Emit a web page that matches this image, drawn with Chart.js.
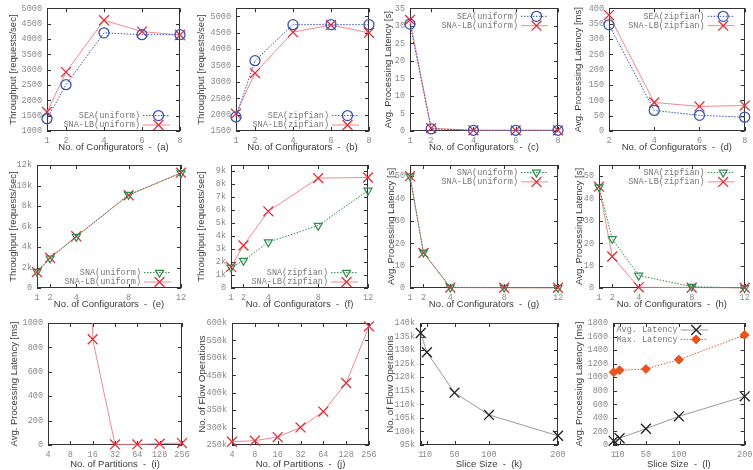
<!DOCTYPE html>
<html><head><meta charset="utf-8">
<script src="https://cdn.jsdelivr.net/npm/chart.js@4"></script>
<style>
html,body{margin:0;padding:0;background:#fff;}
#wrap{position:relative;width:753px;height:470px;overflow:hidden;background:#fff;}
#wrap canvas{position:absolute;left:0;top:0;}
</style></head><body><div id="wrap"></div>
<script>
// ---------------- DATA ----------------
const xConf = [1, 2, 4, 6, 8];
const xConfD = [2, 4, 6, 8];
const xConfE = [1, 2, 4, 8, 12];
const xPart = [4, 8, 16, 32, 64, 128, 256];
const xSlice = [1, 10, 50, 100, 200];

const aSEA = [1400, 2510, 4200, 4140, 4140];
const aSNALB = [1620, 2920, 4610, 4240, 4130];
const bSEA = [1930, 3650, 4750, 4750, 4750];
const bSNALB = [2030, 3270, 4520, 4740, 4500];
const cSEA = [30.5, 0.6, 0.2, 0.2, 0.2];
const cSNALB = [31.7, 0.8, 0.2, 0.2, 0.2];
const dSEA = [346, 67, 51, 45];
const dSNALB = [378, 93, 80, 83];
const eSNA = [1600, 2900, 5000, 9100, 11200];
const eSNALB = [1550, 2950, 5050, 9050, 11250];
const fSNA = [1580, 2100, 3530, 4800, 7500];
const fSNALB = [1620, 3270, 5900, 8450, 8500];
const gSNA = [50, 15.9, 0.3, 0.2, 0.1];
const gSNALB = [50, 15.7, 0.2, 0.1, 0.1];
const hSNA = [45.1, 22, 5.6, 0.6, 0];
const hSNALB = [45.3, 14.1, 0.3, 0.2, 0.1];
const iSNALB = [40000, 30000, 867, 5, 5, 11, 16];
const jSNALB = [259500, 262400, 272800, 300400, 346000, 427900, 590500];
const kFlowOps = [136300, 129200, 114300, 106100, 98400];
const lAvg = [62, 100, 240, 423, 718];
const lMax = [1072, 1102, 1121, 1259, 1623];

// tick labels
const yTicksA = [1000, 1500, 2000, 2500, 3000, 3500, 4000, 4500, 5000];
const yTicksB = [1500, 2000, 2500, 3000, 3500, 4000, 4500, 5000];
const yTicksC = [0, 5, 10, 15, 20, 25, 30, 35];
const yTicksD = [0, 50, 100, 150, 200, 250, 300, 350, 400];
const yTicksE = [0, 2000, 4000, 6000, 8000, 10000, 12000];
const yTicksF = [0, 1000, 2000, 3000, 4000, 5000, 6000, 7000, 8000, 9000];
const yTicksG = [0, 10, 20, 30, 40, 50];
const yTicksI = [0, 200, 400, 600, 800, 1000];
const yTicksJ = [250000, 300000, 350000, 400000, 450000, 500000, 550000, 600000];
const yTicksK = [95000, 100000, 105000, 110000, 115000, 120000, 125000, 130000, 135000, 140000];
const yTicksL = [0, 200, 400, 600, 800, 1000, 1200, 1400, 1600, 1800];

// ---------------- STYLES ----------------
const ST = {
  sea: {color:'#3a52b0', line:'#3a52b0', width:1, dash:[1.5,1.5], ps:'circle', r:5, pw:1.3, fill:false},
  lb:  {color:'#e0303a', line:'#f07a80', width:0.9, dash:[], ps:'crossRot', r:7, pw:1.3, fill:false},
  sna: {color:'#2e8a4c', line:'#2e8a4c', width:1, dash:[1.5,1.5], ps:'triangle', rot:180, r:4.6, pw:1.2, fill:false},
  blk: {color:'#222222', line:'#9a9a9a', width:1, dash:[], ps:'crossRot', r:7, pw:1.3, fill:false},
  mx:  {color:'#e8541e', line:'#e8541e', width:1, dash:[1.5,1.5], ps:'rectRot', r:4.5, pw:1, fill:true}
};
const TITLE_SIZE = 9.5;
const TICK_SIZE = 8.5;
const TITLE_FONT = "'Liberation Sans', Arial, sans-serif";
const MONO_FONT = "'Liberation Mono', 'DejaVu Sans Mono', monospace";
const W = 753, H = 470;

function kfmt(v){ return v === 0 ? '0' : (v/1000) + 'k'; }
function pfmt(v){ return String(v); }

function drawMarker(ctx, st, x, y){
  ctx.save();
  ctx.setLineDash([]);
  ctx.strokeStyle = st.color; ctx.fillStyle = st.color; ctx.lineWidth = st.pw;
  const r = st.r;
  ctx.beginPath();
  if (st.ps === 'circle') {
    ctx.arc(x, y, r, 0, Math.PI*2);
  } else if (st.ps === 'crossRot') {
    const d = r*Math.SQRT1_2;
    ctx.moveTo(x-d, y-d); ctx.lineTo(x+d, y+d);
    ctx.moveTo(x-d, y+d); ctx.lineTo(x+d, y-d);
  } else if (st.ps === 'triangle') {
    let rad = (st.rot||0)*Math.PI/180;
    for (let k=0;k<3;k++){
      const px = x + Math.sin(rad)*r, py = y - Math.cos(rad)*r;
      if (k===0) ctx.moveTo(px,py); else ctx.lineTo(px,py);
      rad += 2*Math.PI/3;
    }
    ctx.closePath();
  } else if (st.ps === 'rectRot') {
    ctx.moveTo(x-r, y); ctx.lineTo(x, y-r); ctx.lineTo(x+r, y); ctx.lineTo(x, y+r); ctx.closePath();
  }
  if (st.fill) ctx.fill();
  ctx.stroke();
  ctx.restore();
}

const wrap = document.getElementById('wrap');

function makeChart(spec){
  const cv = document.createElement('canvas');
  cv.width = W; cv.height = H;
  cv.style.width = W+'px'; cv.style.height = H+'px';
  wrap.appendChild(cv);
  const lh = TITLE_SIZE*1.2;
  const P = spec.pos;
  const padLeft = P.ytx - lh/2;
  const padBottom = H - (P.xty + lh/2);

  const gnuPlugin = {
    id: 'gnu',
    beforeDatasetsDraw(chart){
      const {ctx, chartArea:a, scales} = chart;
      ctx.save();
      ctx.strokeStyle = '#333'; ctx.lineWidth = 1; ctx.setLineDash([]);
      ctx.strokeRect(Math.round(a.left)+0.5, Math.round(a.top)+0.5, Math.round(a.right-a.left)-1, Math.round(a.bottom-a.top)-1);
      const L = 4;
      ctx.beginPath();
      scales.y.ticks.forEach(t => {
        const y = Math.round(scales.y.getPixelForValue(t.value))+0.5;
        ctx.moveTo(a.left, y); ctx.lineTo(a.left+L, y);
        ctx.moveTo(a.right, y); ctx.lineTo(a.right-L, y);
      });
      scales.x.ticks.forEach(t => {
        const x = Math.round(scales.x.getPixelForValue(t.value))+0.5;
        ctx.moveTo(x, a.bottom); ctx.lineTo(x, a.bottom-L);
        ctx.moveTo(x, a.top); ctx.lineTo(x, a.top+L);
      });
      ctx.stroke();
      ctx.restore();
    },
    afterDraw(chart){
      const lg = spec.legend;
      if (!lg) return;
      const {ctx, chartArea:a} = chart;
      const n = spec.series.length;
      const gap = 9.4;
      const sampleEnd = a.right - lg.rightOff;
      const sampleStart = sampleEnd - 27;
      ctx.save();
      spec.series.forEach((s, i) => {
        const y = lg.anchor === 'top' ? a.top + lg.off + i*gap : a.bottom - lg.off - (n-1-i)*gap;
        ctx.font = TICK_SIZE + 'px ' + MONO_FONT;
        ctx.fillStyle = '#777';
        ctx.textAlign = 'right'; ctx.textBaseline = 'middle';
        ctx.fillText(s.label, sampleStart - 3, y);
        ctx.beginPath();
        ctx.strokeStyle = s.st.line; ctx.lineWidth = s.st.width; ctx.setLineDash(s.st.dash);
        ctx.moveTo(sampleStart, y); ctx.lineTo(sampleEnd, y); ctx.stroke();
        drawMarker(ctx, s.st, (sampleStart+sampleEnd)/2 + 2, y);
      });
      ctx.restore();
    }
  };

  const tickFont = {family: MONO_FONT, size: TICK_SIZE};
  const titleFont = {family: TITLE_FONT, size: TITLE_SIZE};

  return new Chart(cv, {
    type: 'line',
    data: {datasets: spec.series.map(s => ({
      label: s.label,
      data: s.x.map((x, i) => ({x: x, y: s.y[i]})),
      borderColor: s.st.line, borderWidth: s.st.width, borderDash: s.st.dash,
      pointStyle: s.st.ps, pointRotation: s.st.rot || 0, pointRadius: s.st.r,
      pointBorderColor: s.st.color,
      pointBackgroundColor: s.st.fill ? s.st.color : 'rgba(0,0,0,0)',
      pointBorderWidth: s.st.pw, pointHoverRadius: s.st.r,
      tension: 0, fill: false,
      clip: spec.clip !== undefined ? spec.clip : 10
    }))},
    options: {
      responsive: false, animation: false, devicePixelRatio: 1,
      layout: {padding: {left: padLeft, top: P.T, right: W - P.R, bottom: padBottom}},
      plugins: {legend: {display: false}, tooltip: {enabled: false}},
      events: [],
      scales: {
        x: {
          type: spec.xType || 'linear', min: spec.xMin, max: spec.xMax,
          grid: {display: false, drawTicks: false}, border: {display: false},
          ticks: {font: tickFont, color: '#8a8a8a', padding: 5, autoSkip: false, maxRotation: 0, minRotation: 0,
                  callback: v => pfmt(v)},
          afterBuildTicks: sc => { sc.ticks = spec.xTicks.map(v => ({value: v})); },
          afterFit: sc => { sc.height = P.xty + lh/2 - P.B; sc.paddingLeft = 0; sc.paddingRight = 0; },
          title: {display: true, text: spec.xTitle, font: titleFont, color: '#3a3a3a', padding: 0}
        },
        y: {
          type: 'linear', min: spec.yMin, max: spec.yMax,
          grid: {display: false, drawTicks: false}, border: {display: false},
          ticks: {font: tickFont, color: '#8a8a8a', padding: 5, autoSkip: false,
                  callback: v => (spec.yFmt || pfmt)(v)},
          afterBuildTicks: sc => { sc.ticks = spec.yTicks.map(v => ({value: v})); },
          afterFit: sc => { sc.width = P.L - padLeft; sc.paddingTop = 0; sc.paddingBottom = 0; },
          title: {display: true, text: spec.yTitle, font: titleFont, color: '#3a3a3a', padding: 0}
        }
      }
    },
    plugins: [gnuPlugin]
  });
}

const TP = 'Throughput [requests/sec]';
const LS = 'Avg. Processing Latency [s]';
const LMS = 'Avg. Processing Latency [ms]';
const FO = 'No. of Flow Operations';

makeChart({pos:{L:47,R:180,T:8,B:131,ytx:13,xty:147}, xMin:1, xMax:8, xTicks:xConf, yMin:1000, yMax:5000, yTicks:yTicksA,
  xTitle:'No. of Configurators  -  (a)', yTitle:TP, legend:{anchor:'bottom', off:6, rightOff:10},
  series:[{label:'SEA(uniform)', x:xConf, y:aSEA, st:ST.sea}, {label:'SNA-LB(uniform)', x:xConf, y:aSNALB, st:ST.lb}]});
makeChart({pos:{L:236,R:369,T:7.5,B:131,ytx:201,xty:147}, xMin:1, xMax:8, xTicks:xConf, yMin:1500, yMax:5250, yTicks:yTicksB,
  xTitle:'No. of Configurators  -  (b)', yTitle:TP, legend:{anchor:'bottom', off:6, rightOff:10},
  series:[{label:'SEA(zipfian)', x:xConf, y:bSEA, st:ST.sea}, {label:'SNA-LB(zipfian)', x:xConf, y:bSNALB, st:ST.lb}]});
makeChart({pos:{L:410,R:558,T:7.5,B:131,ytx:388,xty:147}, xMin:1, xMax:8, xTicks:xConf, yMin:0, yMax:35, yTicks:yTicksC,
  xTitle:'No. of Configurators  -  (c)', yTitle:LS, legend:{anchor:'top', off:8, rightOff:10},
  series:[{label:'SEA(uniform)', x:xConf, y:cSEA, st:ST.sea}, {label:'SNA-LB(uniform)', x:xConf, y:cSNALB, st:ST.lb}]});
makeChart({pos:{L:609,R:746,T:7.5,B:131,ytx:578,xty:147}, xMin:2, xMax:8, xTicks:xConfD, yMin:0, yMax:400, yTicks:yTicksD,
  xTitle:'No. of Configurators  -  (d)', yTitle:LMS, legend:{anchor:'top', off:8, rightOff:10},
  series:[{label:'SEA(zipfian)', x:xConfD, y:dSEA, st:ST.sea}, {label:'SNA-LB(zipfian)', x:xConfD, y:dSNALB, st:ST.lb}]});

makeChart({pos:{L:37,R:181,T:165,B:288,ytx:13,xty:304}, xMin:1, xMax:12, xTicks:xConfE, yMin:0, yMax:12000, yTicks:yTicksE, yFmt:kfmt,
  xTitle:'No. of Configurators  -  (e)', yTitle:TP, legend:{anchor:'bottom', off:6, rightOff:10},
  series:[{label:'SNA(uniform)', x:xConfE, y:eSNA, st:ST.sna}, {label:'SNA-LB(uniform)', x:xConfE, y:eSNALB, st:ST.lb}]});
makeChart({pos:{L:231,R:368,T:165,B:288,ytx:201,xty:304}, xMin:1, xMax:12, xTicks:xConfE, yMin:0, yMax:9460, yTicks:yTicksF, yFmt:kfmt,
  xTitle:'No. of Configurators  -  (f)', yTitle:TP, legend:{anchor:'bottom', off:6, rightOff:10},
  series:[{label:'SNA(zipfian)', x:xConfE, y:fSNA, st:ST.sna}, {label:'SNA-LB(zipfian)', x:xConfE, y:fSNALB, st:ST.lb}]});
makeChart({pos:{L:410,R:558,T:165,B:288,ytx:391,xty:304}, xMin:1, xMax:12, xTicks:xConfE, yMin:0, yMax:55, yTicks:yTicksG,
  xTitle:'No. of Configurators  -  (g)', yTitle:LS, legend:{anchor:'top', off:7.5, rightOff:10},
  series:[{label:'SNA(uniform)', x:xConfE, y:gSNA, st:ST.sna}, {label:'SNA-LB(uniform)', x:xConfE, y:gSNALB, st:ST.lb}]});
makeChart({pos:{L:599,R:747,T:165,B:288,ytx:579,xty:304}, xMin:1, xMax:12, xTicks:xConfE, yMin:0, yMax:55, yTicks:yTicksG,
  xTitle:'No. of Configurators  -  (h)', yTitle:LS, legend:{anchor:'top', off:7.5, rightOff:10},
  series:[{label:'SNA(zipfian)', x:xConfE, y:hSNA, st:ST.sna}, {label:'SNA-LB(zipfian)', x:xConfE, y:hSNALB, st:ST.lb}]});

makeChart({pos:{L:48,R:182,T:323,B:445,ytx:14,xty:464}, xType:'logarithmic', xMin:4, xMax:256, xTicks:xPart, yMin:0, yMax:1000, yTicks:yTicksI,
  clip:{left:10, right:10, bottom:10, top:0},
  xTitle:'No. of Partitions  -  (i)', yTitle:LMS,
  series:[{label:'SNA-LB', x:xPart, y:iSNALB, st:ST.lb}]});
makeChart({pos:{L:232,R:369,T:323,B:445,ytx:202,xty:464}, xType:'logarithmic', xMin:4, xMax:256, xTicks:xPart, yMin:250000, yMax:600000, yTicks:yTicksJ, yFmt:kfmt,
  xTitle:'No. of Partitions  -  (j)', yTitle:FO,
  series:[{label:'SNA-LB', x:xPart, y:jSNALB, st:ST.lb}]});
makeChart({pos:{L:420,R:558,T:323,B:445,ytx:390,xty:464}, xMin:0, xMax:200, xTicks:xSlice, yMin:95000, yMax:140000, yTicks:yTicksK, yFmt:kfmt,
  xTitle:'Slice Size  -  (k)', yTitle:FO,
  series:[{label:'Flow Ops', x:xSlice, y:kFlowOps, st:ST.blk}]});
makeChart({pos:{L:613,R:746,T:323,B:445,ytx:579,xty:464}, xMin:0, xMax:200, xTicks:xSlice, yMin:0, yMax:1800, yTicks:yTicksL,
  xTitle:'Slice Size  -  (l)', yTitle:LMS, legend:{anchor:'top', off:7, rightOff:37},
  series:[{label:'Avg. Latency', x:xSlice, y:lAvg, st:ST.blk}, {label:'Max. Latency', x:xSlice, y:lMax, st:ST.mx}]});
</script>
</body></html>
